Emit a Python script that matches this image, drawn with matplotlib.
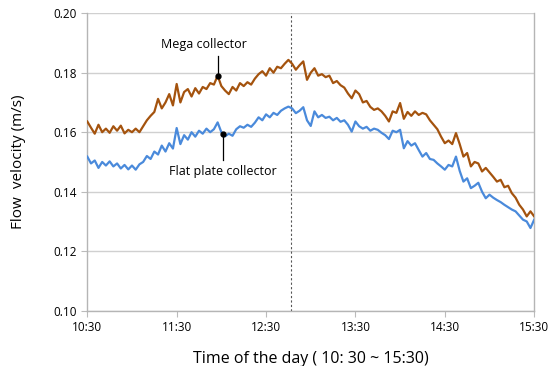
import numpy as np
import matplotlib
matplotlib.use("Agg")
import matplotlib.pyplot as plt

plt.rcParams['font.family'] = ['Open Sans', 'DejaVu Sans']

# minutes after 10:30, sampled every 2.5 min
minutes = np.arange(0, 300.1, 2.5)

mega = [0.1636, 0.1615, 0.1595, 0.1625, 0.1600, 0.1612, 0.1598, 0.1620, 0.1605, 0.1622,
        0.1596, 0.1608, 0.1600, 0.1612, 0.1600, 0.1620, 0.1640, 0.1655, 0.1668, 0.1712,
        0.1680, 0.1700, 0.1728, 0.1690, 0.1762, 0.1700, 0.1735, 0.1745, 0.1720, 0.1748,
        0.1730, 0.1752, 0.1745, 0.1765, 0.1760, 0.1790, 0.1755, 0.1740, 0.1728, 0.1752,
        0.1740, 0.1765, 0.1755, 0.1768, 0.1760, 0.1780, 0.1795, 0.1805, 0.1790, 0.1815,
        0.1800, 0.1820, 0.1815, 0.1830, 0.1843, 0.1830, 0.1810, 0.1825, 0.1838, 0.1776,
        0.1800, 0.1815, 0.1790, 0.1795, 0.1785, 0.1790, 0.1765, 0.1772, 0.1758, 0.1750,
        0.1730, 0.1714, 0.1740, 0.1728, 0.1700, 0.1705, 0.1685, 0.1675, 0.1680, 0.1670,
        0.1655, 0.1636, 0.1670, 0.1665, 0.1698, 0.1645, 0.1668, 0.1655, 0.1670, 0.1658,
        0.1665, 0.1660, 0.1640, 0.1625, 0.1610, 0.1585, 0.1563, 0.1572, 0.1560, 0.1597,
        0.1560, 0.1518, 0.1530, 0.1485, 0.1500, 0.1495, 0.1468, 0.1480, 0.1465, 0.1450,
        0.1434, 0.1440, 0.1415, 0.1420, 0.1395, 0.1380, 0.1356, 0.1340, 0.1317, 0.1334,
        0.1317]

flat = [0.1518, 0.1495, 0.1505, 0.1480, 0.1500, 0.1488, 0.1502, 0.1485, 0.1495, 0.1478,
        0.1490, 0.1475, 0.1488, 0.1474, 0.1492, 0.1500, 0.1520, 0.1510, 0.1535, 0.1525,
        0.1555, 0.1535, 0.1563, 0.1545, 0.1614, 0.1560, 0.1590, 0.1575, 0.1600, 0.1585,
        0.1605, 0.1595, 0.1612, 0.1600, 0.1610, 0.1633, 0.1600, 0.1586, 0.1595, 0.1588,
        0.1610, 0.1620, 0.1615, 0.1625, 0.1618, 0.1632, 0.1650, 0.1640, 0.1660, 0.1650,
        0.1665, 0.1658, 0.1672, 0.1680, 0.1686, 0.1680, 0.1664, 0.1672, 0.1684, 0.1640,
        0.1621, 0.1670, 0.1650, 0.1658, 0.1648, 0.1652, 0.1640, 0.1648, 0.1635, 0.1640,
        0.1625, 0.1602, 0.1636, 0.1620, 0.1612, 0.1618, 0.1605, 0.1612, 0.1608, 0.1598,
        0.1590, 0.1577, 0.1605, 0.1600, 0.1608, 0.1546, 0.1570, 0.1555, 0.1563, 0.1540,
        0.1518, 0.1530, 0.1510, 0.1507, 0.1495, 0.1485, 0.1474, 0.1490, 0.1485, 0.1518,
        0.1470, 0.1434, 0.1445, 0.1412, 0.1420, 0.1430, 0.1400, 0.1378, 0.1390, 0.1380,
        0.1372, 0.1365, 0.1356, 0.1348, 0.1340, 0.1334, 0.1320, 0.1306, 0.1300, 0.1278,
        0.1306]

tick_pos = [0, 60, 120, 180, 240, 300]
tick_labels = ['10:30', '11:30', '12:30', '13:30', '14:30', '15:30']
peak_time = 137

fig = plt.figure(figsize=(5.49, 3.66), dpi=100)
ax = fig.add_axes([0.159, 0.151, 0.814, 0.813])

ax.plot(minutes, mega, color='#A4530E', lw=1.6, zorder=3)
ax.plot(minutes, flat, color='#4A8ADB', lw=1.6, zorder=3)

ax.axvline(peak_time, color='#555555', ls=(0, (2, 2)), lw=0.8, zorder=2)

# callouts
ax.plot([88, 88], [0.1789, 0.1856], color='black', lw=0.9, zorder=4)
ax.plot(88, 0.1789, 'o', color='black', ms=3.5, zorder=5)
ax.text(78, 0.1895, 'Mega collector', ha='center', va='center', fontsize=9)
ax.plot([91, 91], [0.1594, 0.1508], color='black', lw=0.9, zorder=4)
ax.plot(91, 0.1594, 'o', color='black', ms=3.5, zorder=5)
ax.text(91, 0.1467, 'Flat plate collector', ha='center', va='center', fontsize=9)

ax.set_xlim(0, 300)
ax.set_ylim(0.10, 0.20)
ax.set_xticks(tick_pos)
ax.set_xticklabels(tick_labels)
ax.set_yticks(np.arange(0.10, 0.201, 0.02))
ax.yaxis.set_major_formatter(matplotlib.ticker.FormatStrFormatter('%.2f'))
ax.tick_params(labelsize=8.5, length=4, color='#bbbbbb', width=0.8)
ax.grid(axis='y', color='#d0d0d0', lw=1.0)
ax.set_axisbelow(True)

for side in ['left', 'bottom', 'right']:
    ax.spines[side].set_color('#b5b5b5')
    ax.spines[side].set_linewidth(1.0)
ax.spines['top'].set_visible(False)

ax.set_xlabel('Time of the day ( 10: 30 ~ 15:30)', fontsize=11.5, labelpad=12)
ax.set_ylabel('Flow  velocity (m/s)', fontsize=11, labelpad=20)

fig.savefig('out.png', dpi=100)
